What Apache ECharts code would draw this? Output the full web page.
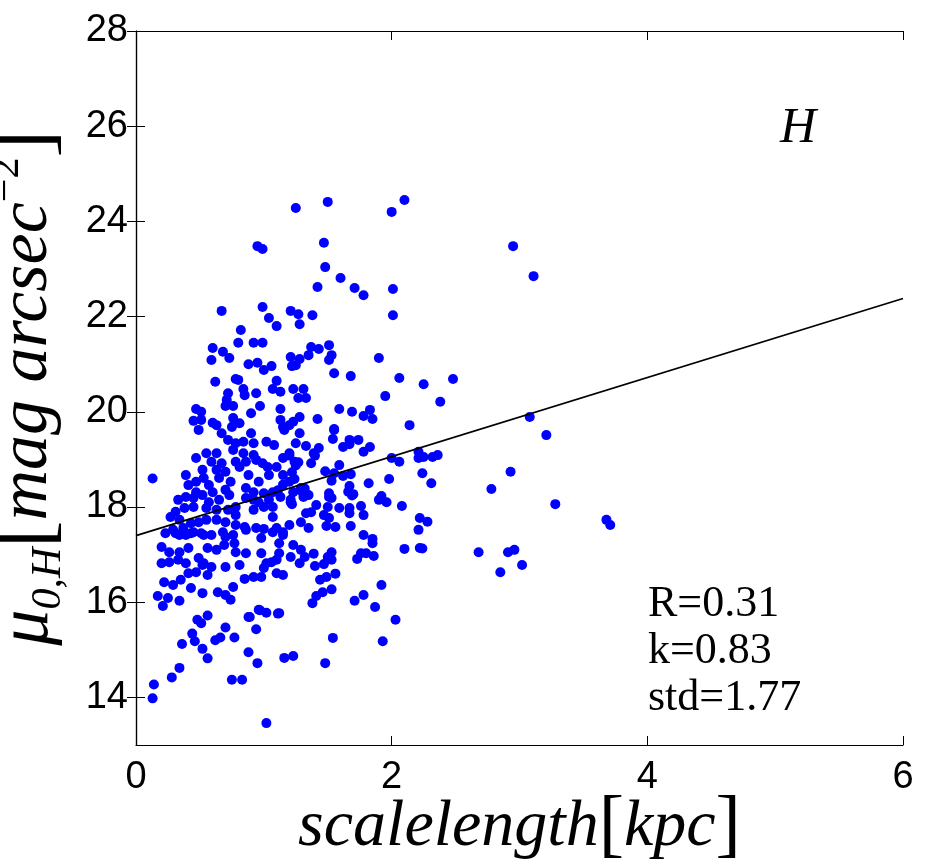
<!DOCTYPE html>
<html>
<head>
<meta charset="utf-8">
<script src="https://cdn.jsdelivr.net/npm/echarts@6/dist/echarts.min.js"></script>
<style>
  html, body { margin: 0; padding: 0; background: #fff; }
</style>
</head>
<body>
<div id="chart" style="width: 936px; height: 865px"></div>
<script>
// scale length [kpc] vs central surface brightness mu_0,H
const galaxies = [
  // sparse low points
  [0.13, 18.6], [0.13, 13.98], [0.14, 14.27], [0.28, 14.42], [0.34, 14.62], [0.36, 15.12],
  [0.44, 15.34], [0.46, 15.18], [0.52, 15.02], [0.56, 14.82], [0.56, 15.72], [0.48, 15.63],
  [0.51, 15.56], [0.62, 15.2], [0.66, 15.26], [0.70, 15.47], [0.77, 15.26], [0.75, 14.37],
  [0.83, 14.37], [0.88, 14.95], [0.95, 14.72], [0.94, 15.43], [0.89, 15.69], [0.97, 15.83],
  [1.02, 15.78], [1.11, 15.76], [1.02, 13.46], [1.16, 14.83], [1.23, 14.87], [1.48, 14.72],
  [1.54, 15.25], [1.38, 15.98], [1.41, 16.13], [1.46, 16.21], [1.53, 16.27], [1.56, 16.6],
  [1.49, 16.53], [1.44, 16.47], [1.71, 16.03], [1.78, 16.15], [1.87, 15.9], [1.92, 16.36],
  [1.93, 15.18], [2.03, 15.63],
  // x 1.3 - 2.4, y 16.5 - 18.5
  [1.76, 17.03], [1.80, 17.03], [1.86, 16.97], [1.73, 16.91], [1.85, 17.24], [1.78, 17.41],
  [2.10, 17.12], [2.22, 17.14], [2.24, 17.13], [2.21, 17.52], [2.22, 17.77], [2.28, 17.69],
  [2.08, 18.02], [1.96, 18.1], [1.90, 18.15], [1.92, 18.23], [1.98, 18.59], [1.82, 18.5],
  [2.24, 18.71], [2.31, 18.5], [2.21, 19.16], [2.21, 19.03], [2.25, 19.05], [2.32, 19.05],
  [2.36, 19.09], [2.0, 19.03], [2.06, 18.95], [2.14, 19.72],
  [1.29, 17.1], [1.32, 16.95], [1.28, 16.82], [1.50, 16.95], [1.53, 16.89], [1.47, 16.8],
  [1.39, 17.02], [1.40, 16.76], [1.53, 17.05],
  [1.29, 18.4], [1.35, 18.25], [1.31, 18.21], [1.51, 18.29], [1.53, 18.19], [1.41, 18.04],
  [1.50, 18.0], [1.59, 17.98], [1.67, 17.98], [1.76, 18.02], [1.33, 17.87], [1.37, 17.89],
  [1.47, 17.83], [1.51, 17.77], [1.67, 17.87], [1.78, 17.83], [1.29, 17.68], [1.35, 17.56],
  [1.49, 17.6], [1.56, 17.58], [1.68, 17.6], [1.85, 17.33],
  // x 1.2 - 1.9, y 18.5 - 20
  [1.55, 19.62], [1.54, 19.43], [1.67, 19.41], [1.67, 19.32], [1.62, 19.26], [1.74, 19.41],
  [1.83, 19.26], [1.78, 19.16], [1.28, 19.55], [1.25, 19.34], [1.33, 19.28], [1.43, 19.24],
  [1.39, 19.13], [1.37, 18.92], [1.59, 18.88], [1.55, 18.71], [1.62, 18.65], [1.68, 18.69],
  [1.67, 18.44], [1.70, 18.27], [1.20, 19.08], [1.25, 18.87], [1.22, 18.73], [1.24, 18.59],
  [1.15, 18.47], [1.11, 18.35], [1.30, 18.32], [1.32, 18.39], [1.21, 18.15], [1.22, 18.06],
  [1.13, 18.21], [1.27, 18.94], [1.40, 19.08], [1.48, 18.75], [1.53, 18.55], [1.66, 18.32],
  [1.69, 18.24], [1.51, 18.21],
  // x 1.2 - 2.5, y 19.8 - 24.5
  [1.27, 22.05], [1.38, 22.03], [1.28, 21.84], [2.01, 22.03], [1.37, 21.36], [1.43, 21.32],
  [1.51, 21.4], [1.35, 21.19], [1.28, 21.11], [1.25, 20.98], [1.53, 21.19], [1.51, 21.09],
  [1.90, 21.13], [1.55, 20.81], [1.68, 20.75], [2.06, 20.71], [2.25, 20.58], [2.48, 20.69],
  [1.31, 20.48], [1.27, 20.29], [1.33, 20.29], [1.95, 20.33], [2.38, 20.21], [1.59, 20.06],
  [1.69, 20.0], [1.78, 19.91], [1.83, 20.04], [1.85, 19.85], [1.28, 19.89], [1.42, 19.85],
  [1.55, 19.64], [1.25, 24.28], [1.50, 24.41], [2.0, 24.2], [2.10, 24.45], [1.47, 23.55],
  [1.48, 23.04], [1.60, 22.81], [1.42, 22.62], [1.71, 22.6], [1.78, 22.45], [2.01, 22.58],
  // x 0.4 - 1.25, y 19.6 - 23.5
  [0.95, 23.48], [0.99, 23.42], [0.67, 22.12], [0.99, 22.2], [1.21, 22.12], [1.04, 21.97],
  [1.10, 21.8], [0.82, 21.72], [0.80, 21.45], [0.92, 21.45], [0.99, 21.45], [0.60, 21.34],
  [0.68, 21.26], [0.73, 21.13], [0.59, 21.09], [0.88, 21.0], [0.95, 21.03], [1.0, 20.88],
  [1.06, 20.96], [1.21, 21.15], [1.22, 20.96], [0.62, 20.63], [0.78, 20.69], [0.80, 20.67],
  [1.10, 20.65], [0.84, 20.48], [0.85, 20.35], [0.94, 20.39], [0.72, 20.39], [0.71, 20.25],
  [0.70, 20.12], [0.76, 20.12], [1.07, 20.48], [1.13, 20.42], [1.23, 20.48], [1.13, 20.06],
  [0.97, 20.12], [0.90, 19.97], [0.47, 20.06], [0.51, 20.0], [0.45, 19.81], [0.51, 19.83],
  [0.60, 19.77], [0.63, 19.72], [0.76, 19.87], [0.81, 19.76], [0.75, 19.68], [1.13, 19.83],
  [1.20, 19.72], [1.15, 19.68],
  // dense cluster, y 18.7 - 19.8
  [0.77, 19.76], [0.90, 19.55], [1.02, 19.37], [1.08, 19.3], [1.16, 19.62], [1.23, 19.79],
  [0.49, 19.62], [0.67, 19.55], [0.72, 19.41], [0.78, 19.34], [0.84, 19.37], [0.92, 19.34],
  [0.63, 19.13], [0.76, 19.2], [0.84, 19.13], [0.92, 19.09], [0.47, 19.03], [0.55, 19.13],
  [0.59, 18.95], [0.67, 18.92], [0.52, 18.78], [0.63, 18.78], [0.70, 18.74], [0.78, 18.95],
  [0.81, 18.84], [0.86, 18.95], [0.94, 18.99], [0.99, 18.92], [1.03, 18.84], [1.10, 18.84],
  [1.15, 19.03], [1.20, 19.13], [1.24, 18.95],
  // dense cluster, y 18.0 - 18.7
  [0.39, 18.67], [0.41, 18.46], [0.47, 18.53], [0.53, 18.61], [0.57, 18.46], [0.65, 18.61],
  [0.74, 18.53], [0.88, 18.67], [0.96, 18.53], [1.04, 18.67], [1.15, 18.67], [0.47, 18.31],
  [0.60, 18.31], [0.70, 18.36], [0.86, 18.4], [0.92, 18.31], [1.0, 18.29], [1.07, 18.31],
  [1.20, 18.53], [1.23, 18.31], [0.33, 18.15], [0.39, 18.21], [0.45, 18.19], [0.52, 18.25],
  [0.57, 18.1], [0.65, 18.15], [0.73, 18.25], [0.78, 18.0], [0.86, 18.19], [0.92, 18.15],
  [0.96, 18.1], [1.04, 18.15], [1.21, 18.1],
  // dense cluster, y 17.3 - 18.0
  [0.31, 17.9], [0.38, 17.98], [0.45, 18.0], [0.55, 17.98], [0.63, 17.94], [0.72, 17.94],
  [0.78, 17.83], [0.92, 17.94], [1.0, 18.0], [1.07, 18.0], [1.07, 17.79], [0.27, 17.79],
  [0.34, 17.73], [0.29, 17.52], [0.37, 17.56], [0.43, 17.66], [0.49, 17.68], [0.55, 17.73],
  [0.63, 17.73], [0.70, 17.68], [0.78, 17.62], [0.34, 17.41], [0.43, 17.45], [0.51, 17.45],
  [0.59, 17.41], [0.68, 17.47], [0.76, 17.41], [0.85, 17.58], [0.94, 17.56], [1.00, 17.54],
  [1.10, 17.56], [1.15, 17.47], [1.20, 17.62], [0.23, 17.45], [0.31, 17.45], [0.39, 17.41],
  [0.45, 17.47], [0.53, 17.41], [0.70, 17.37], [0.86, 17.52], [0.98, 17.35], [1.07, 17.47],
  [1.15, 17.41],
  // y 16.0 - 17.3
  [0.20, 17.16], [0.26, 17.05], [0.34, 17.05], [0.41, 17.14], [0.56, 17.14], [0.63, 17.1],
  [0.69, 17.2], [0.77, 17.24], [0.78, 17.05], [0.86, 17.03], [0.98, 17.03], [1.12, 17.24],
  [1.12, 17.03], [1.23, 17.2], [1.21, 16.95], [0.20, 16.82], [0.26, 16.84], [0.33, 16.89],
  [0.39, 16.82], [0.49, 16.93], [0.53, 16.82], [0.59, 16.74], [0.70, 16.74], [0.81, 16.78],
  [1.02, 16.82], [1.06, 16.84], [1.10, 16.89], [1.0, 16.72], [0.22, 16.42], [0.29, 16.36],
  [0.35, 16.47], [0.41, 16.61], [0.47, 16.63], [0.52, 16.78], [0.56, 16.57], [0.43, 16.3],
  [0.52, 16.19], [0.64, 16.21], [0.70, 16.15], [0.76, 16.32], [0.85, 16.49], [0.92, 16.53],
  [0.98, 16.53], [1.10, 16.61], [1.15, 16.57], [0.17, 16.13], [0.25, 16.09], [0.21, 15.92],
  [0.34, 16.03], [0.74, 16.05], [0.96, 15.84], [1.12, 15.77], [0.88, 15.69],
  // far right
  [2.68, 17.05], [2.91, 17.05], [2.96, 17.1], [2.85, 16.63], [3.02, 16.78], [2.78, 18.38],
  [2.93, 18.74], [3.28, 18.06], [3.68, 17.73], [3.71, 17.62], [3.08, 19.89], [3.21, 19.51],
  [2.95, 23.48], [3.11, 22.85]
];

// least-squares fit line (k = 0.83)
const fitX = [0, 6];
const fitY = [17.4, 22.38];

const xTicks = [0, 2, 4, 6];
const yTicks = [14, 16, 18, 20, 22, 24, 26, 28];

const statsText = ['R=0.31', 'k=0.83', 'std=1.77'];
const bandName = 'H';

const chart = echarts.init(document.getElementById('chart'));

const tickFont = {
  color: '#000',
  fontFamily: 'Liberation Sans, Arial, sans-serif',
  fontSize: 38
};
const serif = 'Liberation Serif, Times New Roman, serif';
const tickStyle = { show: true, inside: true, length: 9, lineStyle: { color: '#000', width: 1 } };
const lineStyle = { show: true, lineStyle: { color: '#000', width: 1.2 } };

const option = {
  animation: false,
  backgroundColor: '#fff',
  grid: { left: 136, right: 33, top: 31, bottom: 120, containLabel: false, outerBoundsMode: 'none' },
  xAxis: [
    {
      type: 'value',
      min: 0,
      max: 6,
      interval: 2,
      axisLine: lineStyle,
      axisTick: tickStyle,
      splitLine: { show: false },
      axisLabel: { ...tickFont, margin: 14, customValues: xTicks },
      name: '{it|scalelength}{br|[}{it|kpc}{br|]}',
      nameLocation: 'middle',
      nameMoveOverlap: false,
      nameGap: 50,
      nameTextStyle: {
        lineHeight: 66,
        rich: {
          it: { fontFamily: serif, fontStyle: 'italic', fontSize: 66, color: '#000', lineHeight: 66 },
          br: { fontFamily: serif, fontSize: 76, color: '#000', lineHeight: 66 }
        }
      }
    },
    {
      type: 'value',
      position: 'top',
      min: 0,
      max: 6,
      interval: 2,
      axisLine: lineStyle,
      axisTick: tickStyle,
      axisLabel: { show: false },
      splitLine: { show: false }
    }
  ],
  yAxis: [
    {
      type: 'value',
      min: 13,
      max: 28,
      axisLine: lineStyle,
      axisTick: { ...tickStyle, customValues: yTicks },
      splitLine: { show: false },
      axisLabel: { ...tickFont, margin: 8, customValues: yTicks },
      name: '{mu|μ}{sub|0,H}{br|[}{it|mag arcsec}{sup|−2}{br|]}',
      nameLocation: 'middle',
      nameMoveOverlap: false,
      nameRotate: 90,
      nameGap: 66,
      nameTextStyle: {
        rich: {
          mu: { fontFamily: serif, fontStyle: 'italic', fontSize: 72, color: '#000', lineHeight: 84 },
          it: { fontFamily: serif, fontStyle: 'italic', fontSize: 70, color: '#000', lineHeight: 84 },
          sub: { fontFamily: serif, fontStyle: 'italic', fontSize: 42, color: '#000', lineHeight: 84, verticalAlign: 'bottom' },
          sup: { fontFamily: serif, fontSize: 42, color: '#000', lineHeight: 84, verticalAlign: 'top' },
          br: { fontFamily: serif, fontSize: 82, color: '#000', lineHeight: 84 }
        }
      }
    },
    {
      type: 'value',
      position: 'right',
      min: 13,
      max: 28,
      axisLine: lineStyle,
      axisTick: { ...tickStyle, customValues: yTicks },
      axisLabel: { show: false },
      splitLine: { show: false }
    }
  ],
  series: [
    {
      name: 'galaxies',
      type: 'scatter',
      data: galaxies,
      symbol: 'circle',
      symbolSize: 10,
      itemStyle: { color: '#0000ff', opacity: 1 },
      z: 2
    },
    {
      name: 'fit',
      type: 'line',
      data: fitX.map((x, i) => [x, fitY[i]]),
      symbol: 'none',
      lineStyle: { color: '#000', width: 1.8 },
      z: 3
    }
  ],
  graphic: [
    {
      type: 'text',
      left: 780,
      top: 104,
      style: { text: bandName, font: 'italic 50px ' + serif, fill: '#000' }
    },
    {
      type: 'group',
      left: 648,
      top: 582,
      children: statsText.map((t, i) => ({
        type: 'text',
        x: 0,
        y: i * 47,
        style: { text: t, font: '44px ' + serif, fill: '#000' }
      }))
    }
  ]
};

chart.setOption(option);
window.addEventListener('resize', () => chart.resize());
</script>
</body>
</html>
